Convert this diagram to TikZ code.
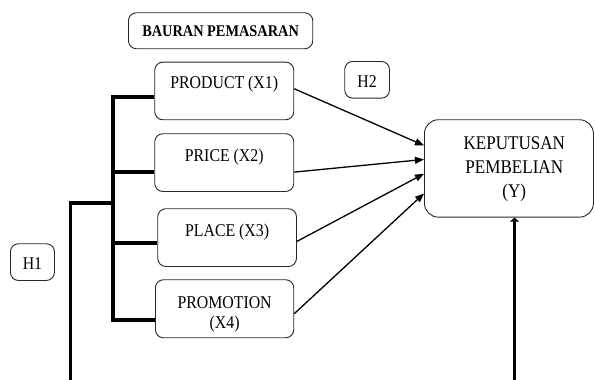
\documentclass[tikz,border=0pt]{standalone}
\usepackage{fontspec}
\setmainfont{Liberation Serif}[FakeStretch=0.88]
\usetikzlibrary{arrows.meta}
\newcommand\bxt[4]{\parbox[c][#2][t]{#1}{\centering\rule{0pt}{#3}#4\par}}
\begin{document}
\begin{tikzpicture}[x=1pt,y=-1pt,
  box/.style={draw=black!85, line width=0.9pt, rounded corners=8pt, inner sep=0pt, anchor=north west, font=\fontsize{18}{20.5}\selectfont},
  bar/.style={line width=4pt},
  bar2/.style={line width=3.6pt},
  arr/.style={line width=1.3pt, -{Triangle[length=9pt,width=7pt]}}]
\useasboundingbox (0,0) rectangle (595,380);
% boxes
\node[box, font=\fontsize{16.3}{19}\selectfont\bfseries] (bm) at (128,12.3) {\bxt{184.3pt}{36pt}{24.2pt}{BAURAN PEMASARAN}};
\node[box] (p1) at (154.3,61.7) {\bxt{139pt}{57.6pt}{26.6pt}{PRODUCT (X1)}};
\node[box] (p2) at (154.3,133.3) {\bxt{139pt}{57.7pt}{27.7pt}{PRICE (X2)}};
\node[box] (p3) at (157.3,208.3) {\bxt{138.7pt}{57.7pt}{27.4pt}{PLACE (X3)}};
\node[box] (p4) at (155,279.3) {\bxt{138.3pt}{58pt}{28.4pt}{PROMOTION\\(X4)}};
\node[box] (h2) at (344.3,61) {\bxt{44.7pt}{36.7pt}{26.3pt}{H2}};
\node[box] (h1) at (10,243.3) {\bxt{44pt}{36.7pt}{26pt}{H1}};
\node[box, rounded corners=14pt, font=\fontsize{19.4}{24}\selectfont] (y) at (424,119.3) {\bxt{169pt}{97.4pt}{30pt}{\leftskip=10.6pt plus 1fil KEPUTUSAN\\PEMBELIAN\\(Y)}};
% arrows to Y
\draw[arr] ([yshift=2.2pt]p1.east) -- ([yshift=23pt]y.west);
\draw[arr] ([yshift=-9.5pt]p2.east) -- ([yshift=9pt]y.west);
\draw[arr] ([yshift=-3.8pt]p3.east) -- ([yshift=-5.3pt]y.west);
\draw[arr] ([yshift=-5pt]p4.east) -- ([yshift=-25pt]y.west);
% bracket
\coordinate (t1) at ([yshift=-6.2pt]p1.west);
\coordinate (t2) at ([yshift=-9.55pt]p2.west);
\coordinate (t3) at ([yshift=-5.55pt]p3.west);
\coordinate (t4) at ([yshift=-11pt]p4.west);
\coordinate (b) at (113,0);
\draw[bar] (t1) -- (t1 -| b) -- (t4 -| b) -- (t4);
\draw[bar] (t2) -- (t2 -| b);
\draw[bar] (t3) -- (t3 -| b);
% H1 line
\coordinate (j) at (113,202.7);
\coordinate (hfoot) at (70.5,380);
\draw[bar2] (j) -| (hfoot);
% line up to Y
\coordinate (yfoot) at (514.5,380);
\draw[bar2, -{Triangle[length=4pt,width=9pt]}] (yfoot) -- (yfoot |- y.south);
\end{tikzpicture}
\end{document}
